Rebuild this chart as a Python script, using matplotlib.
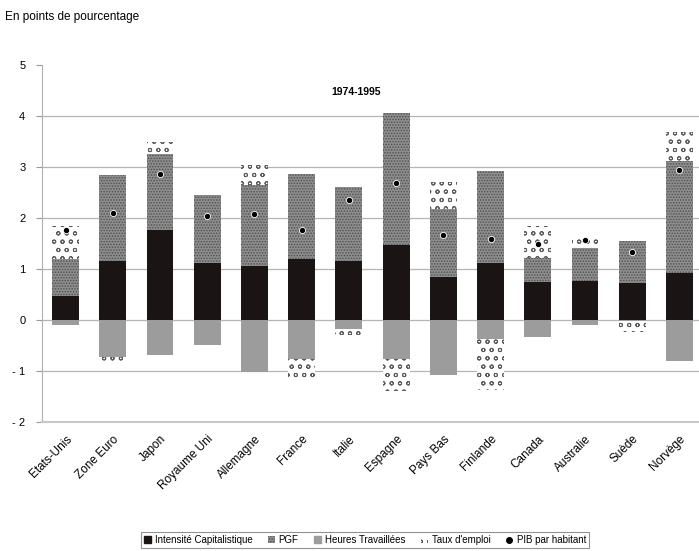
import numpy as np
import matplotlib
matplotlib.use("Agg")
import matplotlib.pyplot as plt
from matplotlib.patches import Patch
from matplotlib.lines import Line2D

plt.rcParams['font.family'] = ['Liberation Sans', 'DejaVu Sans']
plt.rcParams['hatch.linewidth'] = 0.7

pays = ["Etats-Unis", "Zone Euro", "Japon", "Royaume Uni", "Allemagne", "France", "Italie",
        "Espagne", "Pays Bas", "Finlande", "Canada", "Australie", "Suède", "Norvège"]

# contributions en points de pourcentage, 1974-1995
intensite = [0.48, 1.15, 1.76, 1.11, 1.05, 1.19, 1.16, 1.47, 0.84, 1.11, 0.75, 0.76, 0.72, 0.92]
pgf = [0.71, 1.69, 1.50, 1.34, 1.60, 1.67, 1.45, 2.58, 1.33, 1.81, 0.46, 0.65, 0.82, 2.20]
heures = [-0.10, -0.73, -0.68, -0.49, -1.01, -0.77, -0.17, -0.77, -1.08, -0.37, -0.33, -0.10, -0.02, -0.80]
taux_emploi = [0.66, -0.10, 0.23, 0.00, 0.39, -0.36, -0.13, -0.63, 0.54, -1.00, 0.63, 0.24, -0.21, 0.57]
pib_hab = [1.77, 2.09, 2.87, 2.03, 2.07, 1.76, 2.35, 2.68, 1.67, 1.58, 1.50, 1.57, 1.34, 2.95]

styles = {
    "Intensité Capitalistique": dict(color="#1b1414"),
    "PGF": dict(facecolor="#8d8d8d", edgecolor="#505050", hatch="......", linewidth=0),
    "Heures Travaillées": dict(color="#9c9c9c"),
    "Taux d'emploi": dict(facecolor="white", edgecolor="#5c5c5c", hatch="oo", linewidth=0),
}
series = [("Intensité Capitalistique", intensite), ("PGF", pgf),
          ("Heures Travaillées", heures), ("Taux d'emploi", taux_emploi)]

fig = plt.figure(figsize=(6.99, 5.51), dpi=100)
W, H = 699, 551
ax = fig.add_axes([42 / W, 1 - 422 / H, 661 / W, (422 - 65) / H])

x = np.arange(len(pays))
largeur = 0.57
pos = np.zeros(len(pays))
neg = np.zeros(len(pays))
for nom, vals in series:
    vals = np.array(vals)
    base = np.where(vals >= 0, pos, neg)
    ax.bar(x, vals, largeur, bottom=base, zorder=2, **styles[nom])
    pos = np.where(vals >= 0, pos + vals, pos)
    neg = np.where(vals < 0, neg + vals, neg)

ax.plot(x, pib_hab, linestyle="none", marker="o", markersize=4.5,
        color="black", markeredgecolor="white", markeredgewidth=0.6, zorder=3)

ax.set_xlim(-0.5, 13.5)
ax.set_ylim(-2, 5)
ax.set_yticks(range(-2, 6))
ax.set_yticklabels(["- 2", "- 1", "0", "1", "2", "3", "4", "5"], fontsize=8)
for yv in range(-1, 5):
    ax.axhline(yv, color="#b5b5b5", linewidth=0.9, zorder=1)

ax.set_xticks(x)
ax.set_xticklabels(pays, rotation=45, ha="right", va="top", rotation_mode="anchor", fontsize=8.5)
ax.tick_params(axis="x", length=0, pad=8)
ax.tick_params(axis="y", length=4, color="#999999", pad=8)
for s in ["top", "right"]:
    ax.spines[s].set_visible(False)
ax.spines["left"].set_color("#b0b0b0")
ax.spines["bottom"].set_color("#c8c8c8")
ax.spines["bottom"].set_linewidth(1.5)

ax.text(0.475, 0.925, "1974-1995", transform=ax.transAxes, ha="center", va="center",
        fontsize=7.5, fontweight="bold")
fig.text(5 / W, 1 - 17 / H, "En points de pourcentage", ha="left", va="center", fontsize=8.5)

handles = [Patch(**styles[nom], label=nom) for nom, _ in series]
handles.append(Line2D([], [], linestyle="none", marker="o", markersize=4, color="black",
                      label="PIB par habitant"))
leg = fig.legend(handles=handles, loc="center", bbox_to_anchor=(365 / W, 1 - 540 / H), ncol=5,
                 fontsize=7, frameon=True, fancybox=False, handlelength=0.7, handleheight=0.7,
                 handletextpad=0.4, columnspacing=1.6, borderpad=0.35)
leg.get_frame().set_edgecolor("#777777")
leg.get_frame().set_linewidth(0.8)

fig.savefig("out.png", dpi=100)
